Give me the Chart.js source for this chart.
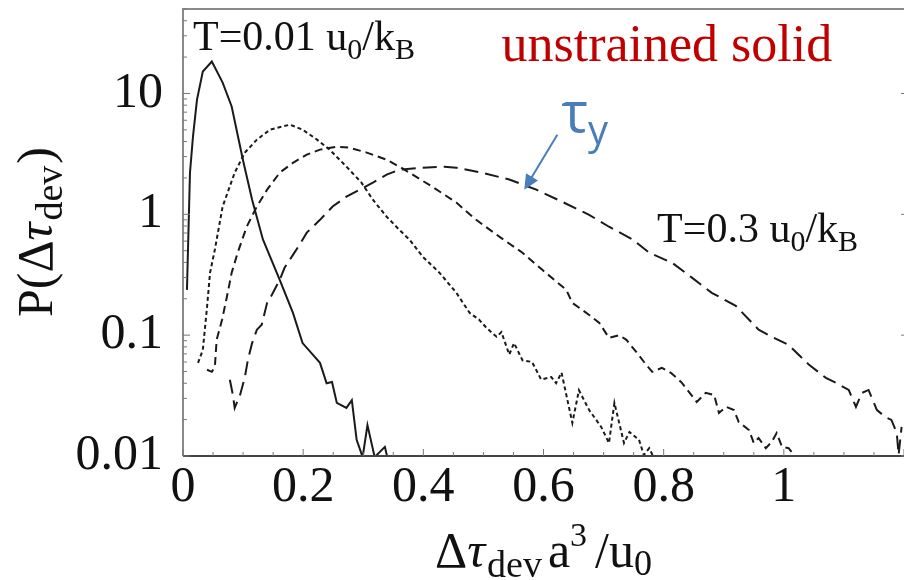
<!DOCTYPE html>
<html>
<head>
<meta charset="utf-8">
<script src="https://cdn.jsdelivr.net/npm/chart.js@4"></script>
<style>
  body { margin: 0; background: #fff; }
</style>
</head>
<body>
<canvas id="myChart" width="904" height="580"></canvas>
<script>
// data
const xT001 = [0.0066, 0.0116, 0.0166, 0.0233, 0.033, 0.048, 0.066, 0.081, 0.0997, 0.115, 0.133, 0.161, 0.183, 0.199, 0.216, 0.228, 0.239, 0.248, 0.256, 0.272, 0.281, 0.289, 0.299, 0.307, 0.319, 0.336, 0.34];
const yT001 = [0.237, 2.21, 4.4, 8.9, 15.2, 18.4, 12.3, 7.8, 2.83, 1.32, 0.62, 0.287, 0.153, 0.086, 0.069, 0.059, 0.040, 0.041, 0.0275, 0.025, 0.029, 0.0136, 0.0098, 0.018, 0.0098, 0.0119, 0.0098];

const xDot = [0.025, 0.033, 0.040, 0.045, 0.053, 0.066, 0.086, 0.103, 0.123, 0.145, 0.178, 0.199, 0.223, 0.244, 0.272, 0.297, 0.316, 0.339, 0.360, 0.377, 0.399, 0.427, 0.455, 0.477, 0.493, 0.505, 0.522, 0.530, 0.543, 0.551, 0.565, 0.581, 0.596, 0.613, 0.621, 0.630, 0.648, 0.659, 0.676, 0.696, 0.709, 0.718, 0.734, 0.743, 0.759, 0.767, 0.776, 0.784];
const yDot = [0.059, 0.0755, 0.171, 0.328, 0.51, 1.16, 2.21, 3.24, 4.15, 5.02, 5.52, 5.02, 4.15, 3.43, 2.48, 1.83, 1.32, 0.955, 0.744, 0.617, 0.446, 0.328, 0.224, 0.153, 0.134, 0.115, 0.097, 0.106, 0.069, 0.086, 0.062, 0.060, 0.043, 0.045, 0.040, 0.049, 0.0188, 0.035, 0.024, 0.0174, 0.0128, 0.0275, 0.0128, 0.0158, 0.0136, 0.0102, 0.0116, 0.0096];

const xDash = [0.040, 0.048, 0.053, 0.056, 0.065, 0.073, 0.081, 0.091, 0.106, 0.123, 0.140, 0.161, 0.183, 0.206, 0.228, 0.256, 0.277, 0.306, 0.339, 0.360, 0.377, 0.415, 0.455, 0.488, 0.527, 0.565, 0.598, 0.638, 0.648, 0.676, 0.693, 0.709, 0.726, 0.738, 0.754, 0.771, 0.781, 0.797, 0.812, 0.829, 0.842, 0.855, 0.870, 0.884, 0.892, 0.904, 0.917, 0.925, 0.942, 0.950, 0.958, 0.970, 0.980, 0.988, 0.997, 1.008, 1.017, 1.022];
const yDash = [0.0517, 0.0497, 0.0546, 0.0914, 0.134, 0.207, 0.328, 0.481, 0.789, 1.16, 1.60, 2.21, 2.67, 3.12, 3.43, 3.63, 3.56, 3.24, 2.83, 2.48, 2.21, 1.69, 1.25, 0.90, 0.65, 0.481, 0.347, 0.237, 0.185, 0.147, 0.126, 0.095, 0.100, 0.0914, 0.073, 0.0568, 0.0497, 0.0536, 0.0488, 0.041, 0.0339, 0.028, 0.0333, 0.0320, 0.0227, 0.0255, 0.024, 0.0191, 0.0164, 0.0128, 0.0141, 0.0116, 0.0131, 0.0155, 0.0119, 0.0116, 0.0102, 0.0096];

const xT03 = [0.078, 0.083, 0.086, 0.095, 0.103, 0.108, 0.115, 0.123, 0.131, 0.140, 0.148, 0.161, 0.169, 0.183, 0.194, 0.206, 0.228, 0.249, 0.272, 0.294, 0.316, 0.339, 0.360, 0.399, 0.435, 0.455, 0.498, 0.543, 0.588, 0.631, 0.676, 0.709, 0.748, 0.776, 0.814, 0.847, 0.880, 0.920, 0.958, 0.980, 1.008, 1.042, 1.070, 1.088, 1.108, 1.120, 1.130, 1.141, 1.155, 1.169, 1.179, 1.188, 1.191, 1.196];
const yT03 = [0.0427, 0.032, 0.025, 0.032, 0.045, 0.0624, 0.086, 0.111, 0.122, 0.185, 0.216, 0.287, 0.361, 0.462, 0.56, 0.705, 0.90, 1.16, 1.40, 1.60, 1.83, 2.13, 2.34, 2.43, 2.48, 2.43, 2.21, 1.94, 1.60, 1.27, 0.99, 0.789, 0.62, 0.481, 0.397, 0.299, 0.224, 0.175, 0.111, 0.097, 0.083, 0.0568, 0.0443, 0.040, 0.0352, 0.0255, 0.0333, 0.0352, 0.024, 0.021, 0.0199, 0.0155, 0.0102, 0.0174];

const xTicks = [0, 0.2, 0.4, 0.6, 0.8, 1];
const yTicks = [0.01, 0.1, 1, 10];

const SERIF = '"Liberation Serif", "Times New Roman", serif';
const ink = '#1a1a1a';

function toPoints(xs, ys) {
  return xs.map((x, i) => ({ x: x, y: ys[i] }));
}

function curve(label, xs, ys, dash) {
  return {
    label: label,
    data: toPoints(xs, ys),
    borderColor: ink,
    borderWidth: 2,
    borderDash: dash,
    pointRadius: 0,
    tension: 0,
    fill: false
  };
}

// text with sub/superscripts: parts = [text, size, dy, style, gapBefore]
function richText(ctx, x, y, parts, align, family) {
  let w = 0;
  parts.forEach(p => {
    ctx.font = (p[3] || '') + ' ' + p[1] + 'px ' + (family || SERIF);
    w += ctx.measureText(p[0]).width + (p[4] || 0);
  });
  let cx = align === 'center' ? x - w / 2 : x;
  ctx.textAlign = 'left';
  ctx.textBaseline = 'alphabetic';
  parts.forEach(p => {
    ctx.font = (p[3] || '') + ' ' + p[1] + 'px ' + (family || SERIF);
    cx += p[4] || 0;
    ctx.fillText(p[0], cx, y + p[2]);
    cx += ctx.measureText(p[0]).width;
  });
}

const overlay = {
  id: 'overlay',
  afterDraw(chart) {
    const ctx = chart.ctx;
    const a = chart.chartArea;
    const xs = chart.scales.x;
    const ys = chart.scales.y;
    ctx.save();

    // frame (right side falls off the picture)
    ctx.strokeStyle = '#8a8a8a';
    ctx.lineWidth = 2;
    ctx.beginPath();
    ctx.moveTo(a.left, a.bottom);
    ctx.lineTo(a.left, a.top);
    ctx.lineTo(a.right, a.top);
    ctx.stroke();
    ctx.strokeStyle = '#444';
    ctx.beginPath();
    ctx.moveTo(a.left, a.bottom);
    ctx.lineTo(a.right, a.bottom);
    ctx.stroke();

    // inward ticks
    ctx.lineWidth = 1;
    ctx.strokeStyle = '#777';
    ctx.beginPath();
    for (let i = 0; i <= 24; i++) {
      const px = xs.getPixelForValue(i * 0.05);
      const len = i % 4 === 0 ? 7 : 4;
      ctx.moveTo(px, a.bottom);
      ctx.lineTo(px, a.bottom - len);
    }
    for (let e = -2; e <= 1; e++) {
      for (let m = 1; m <= 9; m++) {
        const v = m * Math.pow(10, e);
        if (v > 50) break;
        const py = ys.getPixelForValue(v);
        const len = m === 1 ? 7 : 4;
        ctx.moveTo(a.left, py);
        ctx.lineTo(a.left + len, py);
        if (m === 1) {
          ctx.moveTo(a.right, py);
          ctx.lineTo(a.right - 3, py);
        }
      }
    }
    ctx.stroke();

    ctx.fillStyle = '#111';
    // x title
    richText(ctx, (a.left + a.right) / 2, 567, [
      ['Δ', 50, 0], ['τ', 50, 0, 'italic'], ['dev', 38, 10, '', 2], ['a', 50, 0, '', 6],
      ['3', 34, -21], ['/u', 50, 0, '', 8], ['0', 36, 8]
    ], 'center');

    // y title
    ctx.save();
    ctx.translate(52, 232);
    ctx.rotate(-Math.PI / 2);
    richText(ctx, 0, 0, [
      ['P(Δ', 50, 0], ['τ', 50, 0, 'italic'], ['dev', 38, 10, '', 2], [')', 50, 0, '', 2]
    ], 'center');
    ctx.restore();

    // annotations
    richText(ctx, xs.getPixelForValue(0.0166), ys.getPixelForValue(23.1), [
      ['T=0.01 u', 42, 0], ['0', 30, 9], ['/k', 42, 0], ['B', 30, 9]
    ]);
    richText(ctx, xs.getPixelForValue(0.789), ys.getPixelForValue(0.593), [
      ['T=0.3 u', 42, 0], ['0', 30, 9], ['/k', 42, 0], ['B', 30, 9]
    ]);
    ctx.fillStyle = '#C00000';
    richText(ctx, xs.getPixelForValue(0.530), ys.getPixelForValue(18.4), [
      ['unstrained solid', 52, 0]
    ]);

    // tau_y arrow
    const blue = '#4A7EBB';
    ctx.fillStyle = blue;
    richText(ctx, xs.getPixelForValue(0.630), ys.getPixelForValue(4.83), [
      ['τ', 56, 0], ['y', 40, 12]
    ], 'left', '"Open Sans", "Noto Sans", sans-serif');
    const x0 = xs.getPixelForValue(0.623), y0 = ys.getPixelForValue(4.56);
    const x1 = xs.getPixelForValue(0.568), y1 = ys.getPixelForValue(1.60);
    const ang = Math.atan2(y1 - y0, x1 - x0);
    ctx.strokeStyle = blue;
    ctx.lineWidth = 2;
    ctx.beginPath();
    ctx.moveTo(x0, y0);
    ctx.lineTo(x1 - 10 * Math.cos(ang), y1 - 10 * Math.sin(ang));
    ctx.stroke();
    ctx.beginPath();
    ctx.moveTo(x1, y1);
    ctx.lineTo(x1 - 15 * Math.cos(ang) + 7 * Math.sin(ang), y1 - 15 * Math.sin(ang) - 7 * Math.cos(ang));
    ctx.lineTo(x1 - 15 * Math.cos(ang) - 7 * Math.sin(ang), y1 - 15 * Math.sin(ang) + 7 * Math.cos(ang));
    ctx.closePath();
    ctx.fill();

    ctx.restore();
  }
};

const ctx = document.getElementById('myChart').getContext('2d');

const config = {
  type: 'line',
  data: {
    datasets: [
      curve('T=0.01 u0/kB', xT001, yT001, []),
      curve('curve 2', xDot, yDot, [4, 3]),
      curve('curve 3', xDash, yDash, [8, 5]),
      curve('T=0.3 u0/kB', xT03, yT03, [14, 7])
    ]
  },
  options: {
    responsive: false,
    animation: false,
    devicePixelRatio: 1,
    layout: { padding: { top: 9, right: 0, left: 0, bottom: 0 } },
    plugins: {
      legend: { display: false },
      tooltip: { enabled: false }
    },
    scales: {
      x: {
        type: 'linear',
        min: 0,
        max: 1.2,
        grid: { display: false, drawTicks: false },
        border: { display: false },
        afterBuildTicks: (scale) => { scale.ticks = xTicks.map(v => ({ value: v })); },
        afterFit: (scale) => {
          scale.height = 124;
          scale.paddingLeft = 0;
          scale.paddingRight = 0;
        },
        ticks: {
          autoSkip: false,
          maxRotation: 0,
          padding: 2,
          color: '#111',
          font: { family: SERIF, size: 50 },
          callback: (v) => String(Math.round(v * 10) / 10)
        }
      },
      y: {
        type: 'logarithmic',
        min: 0.01,
        max: 50,
        grid: { display: false, drawTicks: false },
        border: { display: false },
        afterBuildTicks: (scale) => { scale.ticks = yTicks.map(v => ({ value: v })); },
        afterFit: (scale) => {
          scale.width = 183;
          scale.paddingTop = 0;
          scale.paddingBottom = 0;
        },
        ticks: {
          autoSkip: false,
          padding: 20,
          color: '#111',
          font: { family: SERIF, size: 50 },
          callback: (v) => String(v)
        }
      }
    }
  },
  plugins: [overlay]
};

const myChart = new Chart(ctx, config);
</script>
</body>
</html>
